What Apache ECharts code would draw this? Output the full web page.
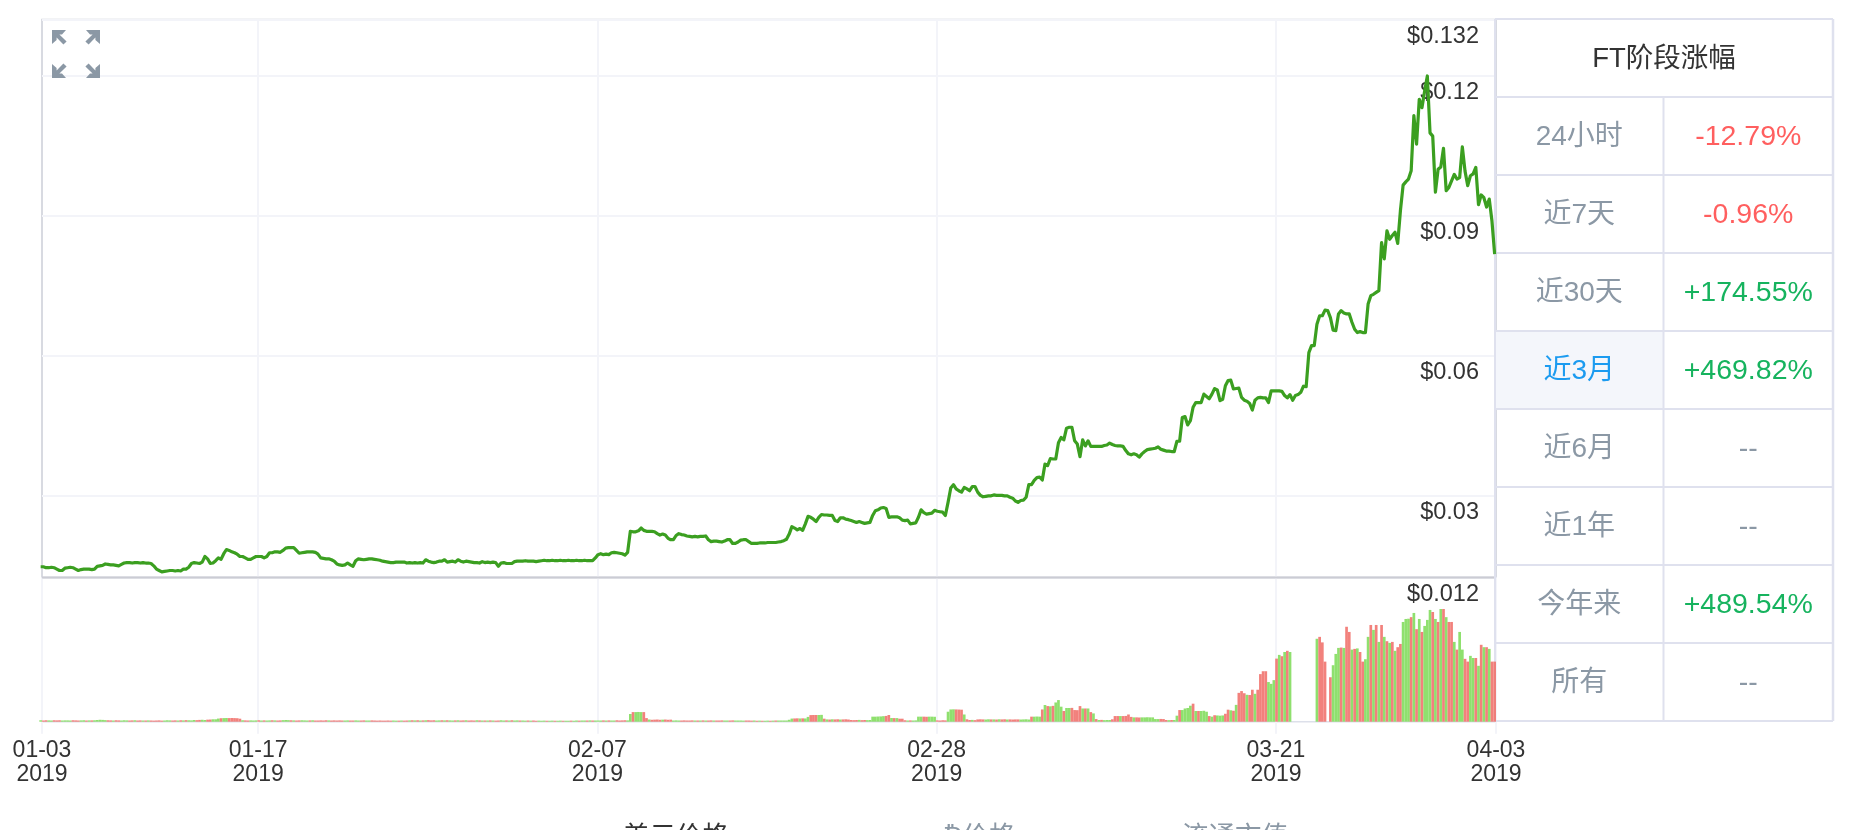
<!DOCTYPE html>
<html><head><meta charset="utf-8">
<style>html,body{margin:0;padding:0;background:#fff;overflow:hidden}#c{width:1860px;height:830px}</style>
<script src="https://cdn.jsdelivr.net/npm/echarts@6/dist/echarts.min.js"></script>
</head><body><div id="c"></div>
<script>
// 4-hourly prices in USD
const prices = [
.0147,.0147,.0145,.0145,.0146,.0145,.0142,.0139,.0139,.0144,
.0145,.0146,.0145,.0142,.0139,.0141,.0142,.0142,.0142,.0141,
.0142,.0148,.0149,.0150,.0153,.0152,.0151,.0151,.0150,.0149,
.0152,.0155,.0156,.0156,.0155,.0156,.0156,.0155,.0156,.0155,
.0155,.0154,.0149,.0142,.0139,.0136,.0137,.0138,.0139,.0139,
.0138,.0139,.0138,.0142,.0142,.0146,.0154,.0156,.0155,.0154,
.0157,.0169,.0164,.0154,.0155,.0160,.0166,.0163,.0175,.0184,
.0182,.0179,.0177,.0174,.0169,.0169,.0166,.0163,.0163,.0166,
.0169,.0169,.0169,.0166,.0169,.0177,.0177,.0179,.0179,.0178,
.0182,.0187,.0188,.0188,.0188,.0182,.0176,.0177,.0178,.0179,
.0179,.0179,.0178,.0174,.0166,.0165,.0164,.0164,.0162,.0159,
.0153,.0151,.0150,.0151,.0155,.0151,.0148,.0160,.0164,.0163,
.0162,.0163,.0164,.0164,.0163,.0162,.0161,.0159,.0158,.0157,
.0156,.0156,.0157,.0157,.0157,.0157,.0155,.0156,.0155,.0156,
.0155,.0156,.0155,.0162,.0159,.0157,.0156,.0157,.0159,.0159,
.0162,.0157,.0158,.0159,.0157,.0162,.0159,.0157,.0159,.0158,
.0157,.0156,.0156,.0155,.0158,.0156,.0157,.0156,.0157,.0156,
.0148,.0155,.0156,.0154,.0154,.0154,.0158,.0159,.0159,.0159,
.0160,.0159,.0159,.0159,.0158,.0159,.0160,.0161,.0160,.0160,
.0161,.0160,.0160,.0161,.0160,.0160,.0161,.0160,.0160,.0161,
.0160,.0160,.0161,.0160,.0160,.0160,.0166,.0173,.0175,.0173,
.0174,.0173,.0177,.0178,.0177,.0176,.0175,.0172,.0178,.0223,
.0222,.0222,.0224,.0230,.0225,.0223,.0223,.0223,.0222,.0218,
.0215,.0217,.0215,.0208,.0205,.0205,.0214,.0218,.0216,.0215,
.0213,.0212,.0211,.0212,.0211,.0212,.0212,.0213,.0205,.0201,
.0202,.0202,.0201,.0200,.0202,.0205,.0205,.0197,.0197,.0200,
.0204,.0205,.0205,.0201,.0197,.0197,.0197,.0198,.0198,.0198,
.0199,.0199,.0199,.0199,.0200,.0201,.0203,.0206,.0217,.0233,
.0230,.0226,.0229,.0225,.0239,.0255,.0253,.0249,.0244,.0253,
.0259,.0258,.0258,.0257,.0257,.0246,.0244,.0252,.0252,.0249,
.0248,.0246,.0244,.0242,.0244,.0242,.0240,.0241,.0242,.0257,
.0267,.0269,.0273,.0274,.0272,.0253,.0254,.0254,.0254,.0252,
.0247,.0246,.0247,.0239,.0240,.0241,.0253,.0269,.0263,.0260,
.0261,.0262,.0268,.0266,.0265,.0264,.0257,.0285,.0316,.0323,
.0314,.0310,.0307,.0317,.0314,.0310,.0319,.0319,.0307,.0300,
.0297,.0298,.0299,.0299,.0301,.0300,.0300,.0300,.0299,.0299,
.0296,.0294,.0288,.0285,.0289,.0290,.0296,.0323,.0323,.0332,
.0338,.0339,.0333,.0367,.0364,.0379,.0378,.0378,.0413,.0424,
.0419,.0444,.0446,.0446,.0417,.0410,.0383,.0419,.0406,.0417,
.0405,.0405,.0405,.0405,.0405,.0407,.0408,.0412,.0409,.0407,
.0406,.0406,.0405,.0396,.0389,.0387,.0389,.0387,.0382,.0389,
.0394,.0398,.0399,.0400,.0401,.0404,.0399,.0397,.0395,.0395,
.0394,.0394,.0416,.0416,.0467,.0469,.0451,.0460,.0489,.0499,
.0499,.0499,.0517,.0512,.0507,.0517,.0529,.0526,.0503,.0506,
.0535,.0546,.0547,.0528,.0529,.0530,.0510,.0504,.0502,.0497,
.0483,.0504,.0509,.0510,.0509,.0509,.0499,.0524,.0524,.0524,
.0524,.0523,.0514,.0509,.0516,.0504,.0514,.0516,.0521,.0534,
.0533,.0606,.0621,.0621,.0667,.0685,.0685,.0697,.0696,.0681,
.0654,.0653,.0689,.0696,.0691,.0689,.0689,.0671,.0656,.0649,
.0651,.0649,.0649,.0710,.0728,.0731,.0735,.0739,.0842,.0807,
.0867,.0849,.0857,.0864,.0840,.0910,.0965,.0972,.0978,.0996,
.1114,.1053,.1149,.1131,.1167,.1199,.1077,.1070,.0950,.0999,
.1004,.1044,.0953,.0960,.0974,.0988,.0978,.0981,.1047,.0995,
.0964,.0985,.0989,.1003,.0923,.0944,.0938,.0918,.0935,.0888,
.0817];
// volume per 4 hours, in units of $0.0001 of the lower axis
const volumes = [
1.2,1,1.2,1.1,1,1.2,1.1,1.2,1,1.1,
1.1,1,1.2,1.1,1,1.1,1.2,1,1.1,1.1,
1.2,1.4,1.6,1.5,1.3,1.2,1.1,1,1.2,1.1,
1,1.2,1.1,1,1.1,1.2,1,1.1,1,1,
1.1,1,.9,1,1.1,.9,1,1.2,1.1,1,
1.1,1,1.2,1.1,1.3,1.2,1.1,1.4,1.3,1.5,
1.6,1.4,1.7,1.8,2,2,2.6,2.9,3,3.1,
3,3.1,3,2.9,2.5,1.2,1.1,1,1.1,1,
1.1,1.2,1,1.1,1,1.1,1.2,1.1,1,1.1,
1.3,1.4,1.3,1.2,1.1,1,1.1,1.2,1.1,1,
1.1,1.2,1,1,1.1,1,1.2,1.1,1,1.1,
1,1.1,1,1,1.1,1,1,1.1,1,1,
1.1,1,1,1.1,1,.9,1,.9,.9,1,
.9,1,.9,.9,1,.9,1,1.1,1.2,1.1,
1.2,1,1.1,1.2,1.3,1.1,1.2,1,1.1,1.2,
1.1,1.2,1.1,1,1.1,1.2,1,1.1,1.2,1,
1.1,1,1.2,1.1,1,1,1,1.1,1,.9,
1,1.2,1,1.1,1,1.2,1,1.1,1,1,
.9,1,.9,1,.8,.9,.8,.9,.8,.8,
.9,.8,.8,.9,.8,.8,.8,.9,.8,1,
.9,1,1,1,1.1,1,1,1,1,1.1,
1,1.1,1,1,1.2,1,1.1,1.2,1.1,6.4,
8,8,8.1,8,8,3,1.8,1.6,1.7,1.8,
1.6,1.7,1.8,1.6,1.7,1,1.1,1,1,1.1,
1,1,1.1,1,1,1,1.1,1,1,1.1,
1,1,1,1.1,1,1,1,1.1,1,1,
1,.9,1,1,.9,1,.8,.9,.8,.8,
.9,.8,.9,1,1,1,1,1,1.6,2.6,
2.7,2.8,2.7,2.8,2.7,4,5.5,5.6,5.6,5.6,
5.7,2.5,1.9,1.8,2,1.9,2,1.8,1.9,2,
1.8,1.4,1.3,1.4,1.5,1.3,1.4,1.3,1.4,4.2,
4.2,4.3,4.4,4.6,4.8,5.6,3.1,3,3,2.5,
2.5,1.2,1,1.1,1,1.1,4.2,4.2,4.2,4.1,
4.2,4.2,4.1,1.1,1,1.2,1.1,8.3,10.2,10.3,
10.2,10.1,10,6,2,1.4,1.5,1.3,1.9,2,
1.9,1.8,2,1.9,1.9,1.8,2,1.9,2,1.8,
1.9,1.8,1.9,1.9,1.8,1.9,2,1.8,4.2,4.2,
4.3,4.2,10.2,13.9,13,12.8,13.2,16,18,12.5,
8.9,11.4,11.4,11.5,9.7,9.6,13,11,11,11,
8,6.9,2.2,1.4,1.5,1.3,1.4,1.4,2,4.7,
4.7,4.7,4.7,4.8,6,4,3.6,3.6,3.5,3.6,
3.6,3.7,3.6,3.6,2.2,2.2,2.3,2.2,1.4,1.3,
1.4,1.4,5,9.7,9.7,11,11.4,13.3,15,8.9,
8.9,8.9,9.1,8.3,4.7,4.2,5.4,5.2,5,5.2,
6.6,10,9.5,9.1,14,24,25.5,23.7,22.4,22.2,
26.6,23.2,26.6,39.6,42,42,33,31.5,34.6,52.5,
55.6,54.5,58,59,58,0,0,0,0,0,
0,0,0,0,69,70.6,66,50,0,37,
47,56.4,61.4,61.7,61.4,79,74.7,60,60.6,61,
58,50,52,70.6,80.5,76.4,80.5,66.4,80.5,70.6,
67,65.6,66.4,59,62,64.7,83,85.5,85.7,87,
90.5,77,85.5,74.7,79.7,84.7,93,91.3,85.5,83,
93.8,93.8,87,83,83,66.4,60,74.7,60,52.3,
50,54.8,53,53,46.5,64,62,62,60.6,50,
50];
// bar colours of the busy last stretch (g = green, r = red), starting at bar 423
const tailSides = ['rggggrgrgg','grgrgggrrg','rgrrrgrrgr','rrrgggrgrgrg','ggggggggg','grrrgrgggr','grrgrgrrgg','rgrgrgrgrg','rrgggrgrgr','gggrgrgrgr','rgrggrrggr','grgrgrr'].join('');
const tailStart = 423;
const priceTicks = [.03,.06,.09,.12,.132];
const priceMin = .0124;
const volumeTop = 120;
const tickDates = ['2019-01-03T14:53Z','2019-01-17T00:00Z','2019-02-07T00:00Z','2019-02-28T00:00Z','2019-03-21T00:00Z','2019-04-03T14:53Z'];
const firstSample = '2019-01-03T12:53Z';
const legendNames = ['美元价格','₿价格','流通市值'];
const tableTitle = 'FT阶段涨幅';
const periodNames = ['24小时','近7天','近30天','近3月','近6月','近1年','今年来','所有'];
const periodValues = ['-12.79%','-0.96%','+174.55%','+469.82%','--','--','+489.54%','--'];

const t0 = Date.parse(firstSample), stepMs = 4*3600*1000;
const times = prices.map((_,i)=>t0+i*stepMs);
const tickMs = tickDates.map(d=>Date.parse(d));
const font = '"Liberation Sans","Noto Sans CJK SC",sans-serif';
const cjk = font;
const pad = n=>String(n).padStart(2,'0');
const dateLabel = v=>{const d=new Date(v);return pad(d.getUTCMonth()+1)+'-'+pad(d.getUTCDate())+'\n'+d.getUTCFullYear();};
const GREEN='#7fdc5a', RED='#f0706a', GRID='#f3f4f9', BORDER='#dfe1ee', GREY='#8b98a5';

let last=RED;
const barData = volumes.map((v,i)=>{
  const dp = i? prices[i]-prices[i-1] : 0;
  let c = dp>0?GREEN:dp<0?RED:(last===RED?GREEN:RED);
  if(i>=tailStart) c = tailSides[i-tailStart]==='g'?GREEN:RED;
  last=c;
  return {value:[times[i],v],itemStyle:{color:c,opacity:.88}};
});

echarts.graphic.registerShape('cornerArrow', echarts.graphic.extendPath('M0 0H14L10 4.6H7.4L14.6 11.4L11.4 14.6L4.6 7.4V10L0 14Z',{}));

const g=[];
const tx0=1495,tx1=1663.5,tx2=1833,ty0=19,rowH=78,rows=periodNames.length;
g.push({type:'rect',shape:{x:tx0,y:ty0+rowH*4,width:tx1-tx0,height:rowH},style:{fill:'#f4f6fb'},z:1});
for(let r=0;r<=rows+1;r++){
  const y=ty0+rowH*r;
  g.push({type:'line',shape:{x1:tx0,y1:y,x2:tx2,y2:y},style:{stroke:BORDER,lineWidth:2},z:2});
}
g.push({type:'line',shape:{x1:tx0,y1:ty0,x2:tx0,y2:ty0+rowH*(rows+1)},style:{stroke:BORDER,lineWidth:2},z:2});
g.push({type:'line',shape:{x1:tx2,y1:ty0,x2:tx2,y2:ty0+rowH*(rows+1)},style:{stroke:BORDER,lineWidth:2.5},z:2});
g.push({type:'line',shape:{x1:tx1,y1:ty0+rowH,x2:tx1,y2:ty0+rowH*(rows+1)},style:{stroke:BORDER,lineWidth:2},z:2});
g.push({type:'line',shape:{x1:42,y1:577.5,x2:1494,y2:577.5},style:{stroke:'#cbccd4',lineWidth:2},z:2});
g.push({type:'text',x:(tx0+tx2)/2,y:ty0+rowH/2+1,style:{text:tableTitle,fill:'#333',font:'27.5px '+cjk,textAlign:'center',textVerticalAlign:'middle'},z:3});
periodNames.forEach((n,i)=>{
  const y=ty0+rowH*(i+1)+rowH/2+1, v=periodValues[i];
  g.push({type:'text',x:(tx0+tx1)/2,y,style:{text:n,fill:i===3?'#1b9bf0':GREY,font:'28px '+cjk,textAlign:'center',textVerticalAlign:'middle'},z:3});
  g.push({type:'text',x:(tx1+tx2)/2,y,style:{text:v,fill:v[0]==='-'&&v!=='--'?'#ff5f5f':v[0]==='+'?'#16b35e':GREY,font:'28.5px '+font,textAlign:'center',textVerticalAlign:'middle'},z:3});
});
[[623,'#333'],[943,GREY],[1182,GREY]].forEach((p,i)=>g.push({type:'text',x:p[0],y:824,style:{text:legendNames[i],fill:p[1],font:'26.5px '+cjk,textAlign:'left',textVerticalAlign:'top'},z:3}));
[[52,30,1,1],[100,30,-1,1],[52,78,1,-1],[100,78,-1,-1]].forEach(a=>g.push({type:'cornerArrow',x:a[0],y:a[1],scaleX:a[2],scaleY:a[3],style:{fill:GREY},z:5}));

const chart=echarts.init(document.getElementById('c'),null,{renderer:'canvas'});
chart.setOption({
 animation:false,
 backgroundColor:'#fff',
 textStyle:{fontFamily:font},
 grid:[
  {left:42,right:364,top:19.5,height:558,show:true,borderColor:'#cbced8',borderWidth:1.5,backgroundColor:'transparent'},
  {left:42,right:364,top:577.5,height:144.2,show:true,borderColor:'#dde0ea',borderWidth:1.5,backgroundColor:'transparent'}
 ],
 xAxis:[
  {type:'value',gridIndex:0,min:tickMs[0],max:tickMs[5],
   axisLine:{show:false},axisLabel:{show:false},
   axisTick:{show:false,customValues:tickMs.slice(1,5)},
   splitLine:{show:true,lineStyle:{color:GRID,width:2}}},
  {type:'value',gridIndex:1,min:tickMs[0],max:tickMs[5],
   axisLine:{show:false},
   axisTick:{show:true,length:12,customValues:tickMs,lineStyle:{color:GRID,width:2}},
   axisLabel:{show:true,customValues:tickMs,formatter:dateLabel,color:'#333',fontSize:23,lineHeight:24,margin:17,fontFamily:font,hideOverlap:false},
   splitLine:{show:true,lineStyle:{color:GRID,width:2}}}
 ],
 yAxis:[
  {type:'value',gridIndex:0,position:'right',min:priceMin,max:priceTicks[4],
   axisLine:{show:false},
   axisTick:{show:false,customValues:priceTicks},
   axisLabel:{inside:true,customValues:priceTicks,margin:17,color:'#333',fontSize:23.5,verticalAlign:'top',padding:[5,0,0,0],fontFamily:font,
     formatter:v=>'$'+v},
   splitLine:{show:true,lineStyle:{color:GRID,width:2}}},
  {type:'value',gridIndex:1,position:'right',min:0,max:volumeTop,
   axisLine:{show:false},
   axisTick:{show:false,customValues:[volumeTop]},
   axisLabel:{inside:true,customValues:[volumeTop],margin:17,color:'#333',fontSize:23.5,verticalAlign:'top',padding:[5,0,0,0],fontFamily:font,
     formatter:v=>'$'+(v/10000)},
   splitLine:{show:false}}
 ],
 series:[
  {type:'line',xAxisIndex:0,yAxisIndex:0,data:prices.map((p,i)=>[times[i],p]),showSymbol:false,symbol:'none',
   lineStyle:{color:'#3b9f20',width:3.2,join:'round'},clip:true,z:5},
  {type:'bar',xAxisIndex:1,yAxisIndex:1,data:barData,barWidth:2.7,z:4}
 ],
 graphic:g
});
</script></body></html>
